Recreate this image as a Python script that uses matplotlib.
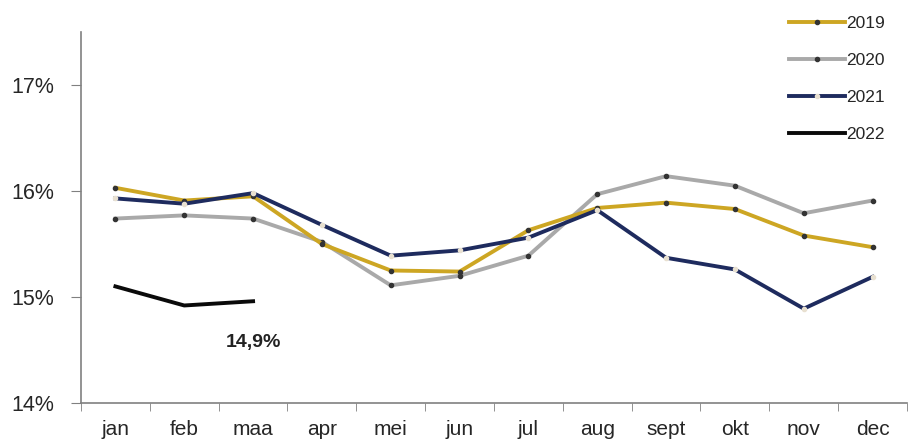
import matplotlib
matplotlib.use("Agg")
import matplotlib.pyplot as plt
from matplotlib.ticker import FixedLocator, FuncFormatter

months = ["jan", "feb", "maa", "apr", "mei", "jun", "jul", "aug", "sept", "okt", "nov", "dec"]
y2019 = [16.03, 15.91, 15.95, 15.50, 15.25, 15.24, 15.63, 15.84, 15.89, 15.83, 15.58, 15.47]
y2020 = [15.74, 15.77, 15.74, 15.52, 15.11, 15.20, 15.39, 15.97, 16.14, 16.05, 15.79, 15.91]
y2021 = [15.93, 15.88, 15.98, 15.68, 15.39, 15.44, 15.56, 15.82, 15.37, 15.26, 14.89, 15.19]
y2022 = [15.10, 14.92, 14.96]
annot_text = "14,9%"

plt.rcParams['font.family'] = ['Liberation Sans', 'DejaVu Sans']

fig = plt.figure(figsize=(9.08, 4.45), dpi=100)
ax = fig.add_axes([81/908, 42/445, 826/908, 371/445])

x = list(range(len(months)))
c19, c20, c21, c22 = "#CDA623", "#A9A9A9", "#1E2B5E", "#0A0A0A"
l19, = ax.plot(x, y2019, color=c19, lw=2.8, marker='o', ms=3, mfc='#333333', mec='#333333', label='2019', zorder=3)
l20, = ax.plot(x, y2020, color=c20, lw=2.8, marker='o', ms=3, mfc='#333333', mec='#333333', label='2020', zorder=2)
l21, = ax.plot(x, y2021, color=c21, lw=2.8, marker='o', ms=3, mfc='#E8E0D0', mec='#E8E0D0', label='2021', zorder=4)
l22, = ax.plot(x[:len(y2022)], y2022, color=c22, lw=2.8, label='2022', zorder=5)

ax.text(2, 14.57, annot_text, ha='center', va='center', fontsize=14, fontweight='bold', color='#222222')

ax.set_xlim(-0.5, 11.5)
ax.set_ylim(14, 17.5)
ax.set_xticks(x)
ax.set_xticklabels(months)
ax.xaxis.set_minor_locator(FixedLocator([i - 0.5 for i in range(13)]))
ax.tick_params(axis='x', which='major', length=0, pad=12, labelsize=15, labelcolor='#262626')
ax.tick_params(axis='x', which='minor', length=6, color='#808080', direction='out')
ax.yaxis.set_major_locator(FixedLocator([14, 15, 16, 17]))
ax.yaxis.set_major_formatter(FuncFormatter(lambda v, p: f"{int(round(v))}%"))
ax.tick_params(axis='y', length=7, color='#808080', labelsize=15.5, labelcolor='#262626', pad=12)

for s in ['top', 'right']:
    ax.spines[s].set_visible(False)
for s in ['left', 'bottom']:
    ax.spines[s].set_color('#808080')
    ax.spines[s].set_linewidth(1.2)

leg = fig.legend(handles=[l19, l20, l21, l22], loc='upper left', bbox_to_anchor=(789/908, 1 - 16/445),
                 frameon=False, fontsize=12.5, handlelength=3.2, handletextpad=0.1, labelspacing=1.25,
                 borderaxespad=0, borderpad=0)
for t in leg.get_texts():
    t.set_color('#262626')

fig.savefig("out.png", dpi=100)
